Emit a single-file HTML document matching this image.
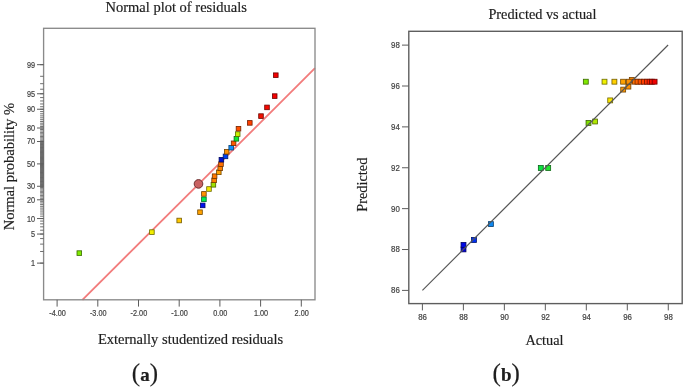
<!DOCTYPE html>
<html><head><meta charset="utf-8"><title>Residual plots</title>
<style>
html,body{margin:0;padding:0;background:#fff;}
body{width:685px;height:389px;overflow:hidden;}
svg{display:block;will-change:transform;}
.t{font-family:"Liberation Serif",serif;fill:#1e1e1e;stroke:#1e1e1e;stroke-width:0.18px;}
.n{font-family:"Liberation Sans",sans-serif;fill:#444;font-size:8.2px;stroke:#444;stroke-width:0.2px;}
</style></head><body>
<svg width="685" height="389" viewBox="0 0 685 389">
<rect width="685" height="389" fill="#fff"/>

<g id="left">
<line x1="82.4" y1="299.8" x2="315.0" y2="68.2" stroke="#f27c7c" stroke-width="1.85"/>
<rect x="43.6" y="28.3" width="271.4" height="271.5" fill="none" stroke="#8a8a8a" stroke-width="1.35"/>
<path d="M40.10 263.12H43.60M40.10 251.49H43.60M40.10 244.12H43.60M40.10 238.57H43.60M40.10 234.05H43.60M40.10 230.21H43.60M40.10 226.84H43.60M40.10 223.83H43.60M40.10 221.08H43.60M40.10 218.56H43.60M40.10 216.21H43.60M40.10 214.01H43.60M40.10 211.94H43.60M40.10 209.98H43.60M40.10 208.10H43.60M40.10 206.31H43.60M40.10 204.60H43.60M40.10 202.94H43.60M40.10 201.34H43.60M40.10 199.80H43.60M40.10 198.29H43.60M40.10 196.83H43.60M40.10 195.41H43.60M40.10 194.02H43.60M40.10 192.67H43.60M40.10 191.34H43.60M40.10 190.04H43.60M40.10 188.76H43.60M40.10 187.50H43.60M40.10 186.27H43.60M40.10 185.05H43.60M40.10 183.85H43.60M40.10 182.66H43.60M40.10 181.49H43.60M40.10 180.33H43.60M40.10 179.19H43.60M40.10 178.05H43.60M40.10 176.93H43.60M40.10 175.81H43.60M40.10 174.71H43.60M40.10 173.60H43.60M40.10 172.51H43.60M40.10 171.42H43.60M40.10 170.34H43.60M40.10 169.26H43.60M40.10 168.18H43.60M40.10 167.11H43.60M40.10 166.04H43.60M40.10 164.97H43.60M40.10 163.90H43.60M40.10 162.83H43.60M40.10 161.76H43.60M40.10 160.69H43.60M40.10 159.62H43.60M40.10 158.54H43.60M40.10 157.46H43.60M40.10 156.38H43.60M40.10 155.29H43.60M40.10 154.20H43.60M40.10 153.09H43.60M40.10 151.99H43.60M40.10 150.87H43.60M40.10 149.75H43.60M40.10 148.61H43.60M40.10 147.47H43.60M40.10 146.31H43.60M40.10 145.14H43.60M40.10 143.95H43.60M40.10 142.75H43.60M40.10 141.53H43.60M40.10 140.30H43.60M40.10 139.04H43.60M40.10 137.76H43.60M40.10 136.46H43.60M40.10 135.13H43.60M40.10 133.78H43.60M40.10 132.39H43.60M40.10 130.97H43.60M40.10 129.51H43.60M40.10 128.00H43.60M40.10 126.46H43.60M40.10 124.86H43.60M40.10 123.20H43.60M40.10 121.49H43.60M40.10 119.70H43.60M40.10 117.82H43.60M40.10 115.86H43.60M40.10 113.79H43.60M40.10 111.59H43.60M40.10 109.24H43.60M40.10 106.72H43.60M40.10 103.97H43.60M40.10 100.96H43.60M40.10 97.59H43.60M40.10 93.75H43.60M40.10 89.23H43.60M40.10 83.68H43.60M40.10 76.31H43.60M40.10 64.68H43.60M40.10 185.65H43.60M40.10 184.45H43.60M40.10 183.25H43.60M40.10 182.08H43.60M40.10 180.91H43.60M40.10 179.76H43.60M40.10 178.62H43.60M40.10 177.49H43.60M40.10 176.37H43.60M40.10 175.26H43.60M40.10 174.15H43.60M40.10 173.06H43.60M40.10 171.97H43.60M40.10 170.88H43.60M40.10 169.80H43.60M40.10 168.72H43.60M40.10 167.65H43.60M40.10 166.57H43.60M40.10 165.50H43.60M40.10 164.43H43.60M40.10 163.37H43.60M40.10 162.30H43.60M40.10 161.23H43.60M40.10 160.15H43.60M40.10 159.08H43.60M40.10 158.00H43.60M40.10 156.92H43.60M40.10 155.83H43.60M40.10 154.74H43.60M40.10 153.65H43.60M40.10 152.54H43.60M40.10 151.43H43.60M40.10 150.31H43.60M40.10 149.18H43.60M40.10 148.04H43.60M40.10 146.89H43.60M40.10 145.72H43.60M40.10 144.55H43.60M40.10 143.35H43.60M40.10 142.15H43.60" stroke="#606060" stroke-width="0.9" fill="none"/>
<path d="M37.00 263.12H43.60M37.00 234.05H43.60M37.00 218.56H43.60M37.00 199.80H43.60M37.00 186.27H43.60M37.00 163.90H43.60M37.00 141.53H43.60M37.00 128.00H43.60M37.00 109.24H43.60M37.00 93.75H43.60M37.00 64.68H43.60" stroke="#5c5c5c" stroke-width="1.0" fill="none"/>
<text class="n" transform="translate(35.00 266.07) scale(0.89 1)" text-anchor="end">1</text>
<text class="n" transform="translate(35.00 237.00) scale(0.89 1)" text-anchor="end">5</text>
<text class="n" transform="translate(35.00 221.51) scale(0.89 1)" text-anchor="end">10</text>
<text class="n" transform="translate(35.00 202.75) scale(0.89 1)" text-anchor="end">20</text>
<text class="n" transform="translate(35.00 189.22) scale(0.89 1)" text-anchor="end">30</text>
<text class="n" transform="translate(35.00 166.85) scale(0.89 1)" text-anchor="end">50</text>
<text class="n" transform="translate(35.00 144.48) scale(0.89 1)" text-anchor="end">70</text>
<text class="n" transform="translate(35.00 130.95) scale(0.89 1)" text-anchor="end">80</text>
<text class="n" transform="translate(35.00 112.19) scale(0.89 1)" text-anchor="end">90</text>
<text class="n" transform="translate(35.00 96.70) scale(0.89 1)" text-anchor="end">95</text>
<text class="n" transform="translate(35.00 67.63) scale(0.89 1)" text-anchor="end">99</text>
<path d="M57.10 299.8V306.60M97.80 299.8V306.60M138.50 299.8V306.60M179.20 299.8V306.60M219.90 299.8V306.60M260.60 299.8V306.60M301.30 299.8V306.60" stroke="#5c5c5c" stroke-width="1.0" fill="none"/>
<text class="n" transform="translate(57.50 316.45) scale(0.89 1)" text-anchor="middle">-4.00</text>
<text class="n" transform="translate(98.20 316.45) scale(0.89 1)" text-anchor="middle">-3.00</text>
<text class="n" transform="translate(138.90 316.45) scale(0.89 1)" text-anchor="middle">-2.00</text>
<text class="n" transform="translate(179.60 316.45) scale(0.89 1)" text-anchor="middle">-1.00</text>
<text class="n" transform="translate(220.30 316.45) scale(0.89 1)" text-anchor="middle">0.00</text>
<text class="n" transform="translate(261.00 316.45) scale(0.89 1)" text-anchor="middle">1.00</text>
<text class="n" transform="translate(301.70 316.45) scale(0.89 1)" text-anchor="middle">2.00</text>
<circle cx="198.5" cy="183.9" r="4.3" fill="#c96262" stroke="#6c3030" stroke-width="1"/>
<rect x="77.00" y="250.80" width="4.60" height="4.60" fill="#80ea00" stroke="#396900" stroke-width="0.8"/>
<rect x="149.60" y="229.80" width="4.60" height="4.60" fill="#f2ee00" stroke="#6c6b00" stroke-width="0.8"/>
<rect x="176.90" y="218.20" width="4.60" height="4.60" fill="#ffc800" stroke="#725a00" stroke-width="0.8"/>
<rect x="197.70" y="209.90" width="4.60" height="4.60" fill="#ffa200" stroke="#724800" stroke-width="0.8"/>
<rect x="200.40" y="203.10" width="4.60" height="4.60" fill="#0010ee" stroke="#00076b" stroke-width="0.8"/>
<rect x="201.60" y="197.00" width="4.60" height="4.60" fill="#00ee50" stroke="#006b24" stroke-width="0.8"/>
<rect x="201.60" y="191.60" width="4.60" height="4.60" fill="#ff9000" stroke="#724000" stroke-width="0.8"/>
<rect x="206.70" y="186.70" width="4.60" height="4.60" fill="#f0e800" stroke="#6c6800" stroke-width="0.8"/>
<rect x="211.10" y="182.50" width="4.60" height="4.60" fill="#a0e000" stroke="#486400" stroke-width="0.8"/>
<rect x="211.80" y="178.00" width="4.60" height="4.60" fill="#ff8000" stroke="#723900" stroke-width="0.8"/>
<rect x="212.30" y="173.90" width="4.60" height="4.60" fill="#ff7800" stroke="#723600" stroke-width="0.8"/>
<rect x="216.50" y="170.00" width="4.60" height="4.60" fill="#ffa000" stroke="#724800" stroke-width="0.8"/>
<rect x="217.90" y="166.00" width="4.60" height="4.60" fill="#ff8000" stroke="#723900" stroke-width="0.8"/>
<rect x="218.70" y="161.80" width="4.60" height="4.60" fill="#ff7000" stroke="#723200" stroke-width="0.8"/>
<rect x="219.10" y="157.40" width="4.60" height="4.60" fill="#0010d0" stroke="#00075d" stroke-width="0.8"/>
<rect x="223.20" y="154.10" width="4.60" height="4.60" fill="#0040f0" stroke="#001c6c" stroke-width="0.8"/>
<rect x="224.40" y="149.50" width="4.60" height="4.60" fill="#ff9000" stroke="#724000" stroke-width="0.8"/>
<rect x="228.90" y="145.40" width="4.60" height="4.60" fill="#1090ff" stroke="#074072" stroke-width="0.8"/>
<rect x="231.30" y="141.00" width="4.60" height="4.60" fill="#ff5800" stroke="#722700" stroke-width="0.8"/>
<rect x="234.10" y="136.50" width="4.60" height="4.60" fill="#10e830" stroke="#076815" stroke-width="0.8"/>
<rect x="235.40" y="131.80" width="4.60" height="4.60" fill="#c8f000" stroke="#5a6c00" stroke-width="0.8"/>
<rect x="236.20" y="126.40" width="4.60" height="4.60" fill="#ff5000" stroke="#722400" stroke-width="0.8"/>
<rect x="247.50" y="120.60" width="4.60" height="4.60" fill="#ff4000" stroke="#721c00" stroke-width="0.8"/>
<rect x="258.70" y="113.80" width="4.60" height="4.60" fill="#f01000" stroke="#6c0700" stroke-width="0.8"/>
<rect x="264.70" y="105.10" width="4.60" height="4.60" fill="#f60800" stroke="#6e0300" stroke-width="0.8"/>
<rect x="272.40" y="93.80" width="4.60" height="4.60" fill="#f40000" stroke="#6d0000" stroke-width="0.8"/>
<rect x="273.50" y="72.90" width="4.60" height="4.60" fill="#f20000" stroke="#6c0000" stroke-width="0.8"/>
<text class="t" x="176.2" y="11.9" font-size="14.5" text-anchor="middle">Normal plot of residuals</text>
<text class="t" x="190.6" y="344.4" font-size="14.5" text-anchor="middle">Externally studentized residuals</text>
<text class="t" transform="translate(13.5 166.6) rotate(-90)" font-size="14.5" text-anchor="middle">Normal probability %</text>
<text class="t" x="135.8" y="381" font-size="25" text-anchor="middle" fill="#111">(</text>
<text class="t" x="145" y="381" font-size="19" font-weight="bold" text-anchor="middle" fill="#111">a</text>
<text class="t" x="153.9" y="381" font-size="25" text-anchor="middle" fill="#111">)</text>
</g>
<g id="right">
<rect x="408.8" y="31.3" width="273.40000000000003" height="272.3" fill="none" stroke="#5e5e5e" stroke-width="1.4"/>
<path d="M402.00 290.40H408.80M402.00 249.52H408.80M402.00 208.64H408.80M402.00 167.76H408.80M402.00 126.88H408.80M402.00 86.00H408.80M402.00 45.12H408.80M422.40 303.6V310.40M463.38 303.6V310.40M504.36 303.6V310.40M545.34 303.6V310.40M586.32 303.6V310.40M627.30 303.6V310.40M668.28 303.6V310.40" stroke="#5c5c5c" stroke-width="1.0" fill="none"/>
<text class="n" transform="translate(399.80 293.35) scale(0.96 1)" text-anchor="end">86</text>
<text class="n" transform="translate(422.60 320.20) scale(0.96 1)" text-anchor="middle">86</text>
<text class="n" transform="translate(399.80 252.47) scale(0.96 1)" text-anchor="end">88</text>
<text class="n" transform="translate(463.58 320.20) scale(0.96 1)" text-anchor="middle">88</text>
<text class="n" transform="translate(399.80 211.59) scale(0.96 1)" text-anchor="end">90</text>
<text class="n" transform="translate(504.56 320.20) scale(0.96 1)" text-anchor="middle">90</text>
<text class="n" transform="translate(399.80 170.71) scale(0.96 1)" text-anchor="end">92</text>
<text class="n" transform="translate(545.54 320.20) scale(0.96 1)" text-anchor="middle">92</text>
<text class="n" transform="translate(399.80 129.83) scale(0.96 1)" text-anchor="end">94</text>
<text class="n" transform="translate(586.52 320.20) scale(0.96 1)" text-anchor="middle">94</text>
<text class="n" transform="translate(399.80 88.95) scale(0.96 1)" text-anchor="end">96</text>
<text class="n" transform="translate(627.50 320.20) scale(0.96 1)" text-anchor="middle">96</text>
<text class="n" transform="translate(399.80 48.07) scale(0.96 1)" text-anchor="end">98</text>
<text class="n" transform="translate(668.48 320.20) scale(0.96 1)" text-anchor="middle">98</text>
<rect x="461.05" y="246.95" width="4.90" height="4.90" fill="#0000d8" stroke="#000061" stroke-width="0.8"/>
<rect x="461.05" y="242.45" width="4.90" height="4.90" fill="#0008e4" stroke="#000366" stroke-width="0.8"/>
<rect x="471.50" y="237.55" width="4.90" height="4.90" fill="#0030f4" stroke="#00156d" stroke-width="0.8"/>
<rect x="488.45" y="221.65" width="4.90" height="4.90" fill="#1088f0" stroke="#073d6c" stroke-width="0.8"/>
<rect x="538.35" y="165.55" width="4.90" height="4.90" fill="#10e040" stroke="#07641c" stroke-width="0.8"/>
<rect x="545.75" y="165.55" width="4.90" height="4.90" fill="#20e830" stroke="#0e6815" stroke-width="0.8"/>
<rect x="586.05" y="120.55" width="4.90" height="4.90" fill="#80e000" stroke="#396400" stroke-width="0.8"/>
<rect x="592.65" y="119.05" width="4.90" height="4.90" fill="#b0e800" stroke="#4f6800" stroke-width="0.8"/>
<rect x="607.75" y="97.95" width="4.90" height="4.90" fill="#fae600" stroke="#706700" stroke-width="0.8"/>
<rect x="620.75" y="87.15" width="4.90" height="4.90" fill="#ff9800" stroke="#724400" stroke-width="0.8"/>
<rect x="625.95" y="84.15" width="4.90" height="4.90" fill="#ff9000" stroke="#724000" stroke-width="0.8"/>
<rect x="583.35" y="79.25" width="4.90" height="4.90" fill="#80e800" stroke="#396800" stroke-width="0.8"/>
<rect x="602.05" y="79.25" width="4.90" height="4.90" fill="#f0f000" stroke="#6c6c00" stroke-width="0.8"/>
<rect x="611.95" y="79.25" width="4.90" height="4.90" fill="#ffd000" stroke="#725d00" stroke-width="0.8"/>
<rect x="620.65" y="79.25" width="4.90" height="4.90" fill="#ffa000" stroke="#724800" stroke-width="0.8"/>
<rect x="629.35" y="77.55" width="4.90" height="4.90" fill="#ff8800" stroke="#723d00" stroke-width="0.8"/>
<rect x="626.35" y="79.25" width="4.90" height="4.90" fill="#ff9000" stroke="#724000" stroke-width="0.8"/>
<rect x="632.35" y="79.25" width="4.90" height="4.90" fill="#ff7000" stroke="#723200" stroke-width="0.8"/>
<rect x="635.05" y="79.25" width="4.90" height="4.90" fill="#ff6000" stroke="#722b00" stroke-width="0.8"/>
<rect x="638.15" y="79.25" width="4.90" height="4.90" fill="#ff5000" stroke="#722400" stroke-width="0.8"/>
<rect x="641.35" y="79.25" width="4.90" height="4.90" fill="#ff4000" stroke="#721c00" stroke-width="0.8"/>
<rect x="644.45" y="79.25" width="4.90" height="4.90" fill="#ff3000" stroke="#721500" stroke-width="0.8"/>
<rect x="647.15" y="79.25" width="4.90" height="4.90" fill="#ff2000" stroke="#720e00" stroke-width="0.8"/>
<rect x="649.45" y="79.25" width="4.90" height="4.90" fill="#f81000" stroke="#6f0700" stroke-width="0.8"/>
<rect x="652.15" y="79.25" width="4.90" height="4.90" fill="#f00000" stroke="#6c0000" stroke-width="0.8"/>
<line x1="422.4" y1="290.4" x2="668.1" y2="45" stroke="#565656" stroke-width="1.15"/>
<text class="t" x="542.4" y="18.7" font-size="14.3" text-anchor="middle">Predicted vs actual</text>
<text class="t" x="544.5" y="345.4" font-size="14.3" text-anchor="middle">Actual</text>
<text class="t" transform="translate(367.2 184.7) rotate(-90)" font-size="14.3" text-anchor="middle">Predicted</text>
<text class="t" x="496.6" y="381" font-size="25" text-anchor="middle" fill="#111">(</text>
<text class="t" x="506.4" y="381" font-size="19" font-weight="bold" text-anchor="middle" fill="#111">b</text>
<text class="t" x="515.6" y="381" font-size="25" text-anchor="middle" fill="#111">)</text>
</g>
</svg></body></html>
